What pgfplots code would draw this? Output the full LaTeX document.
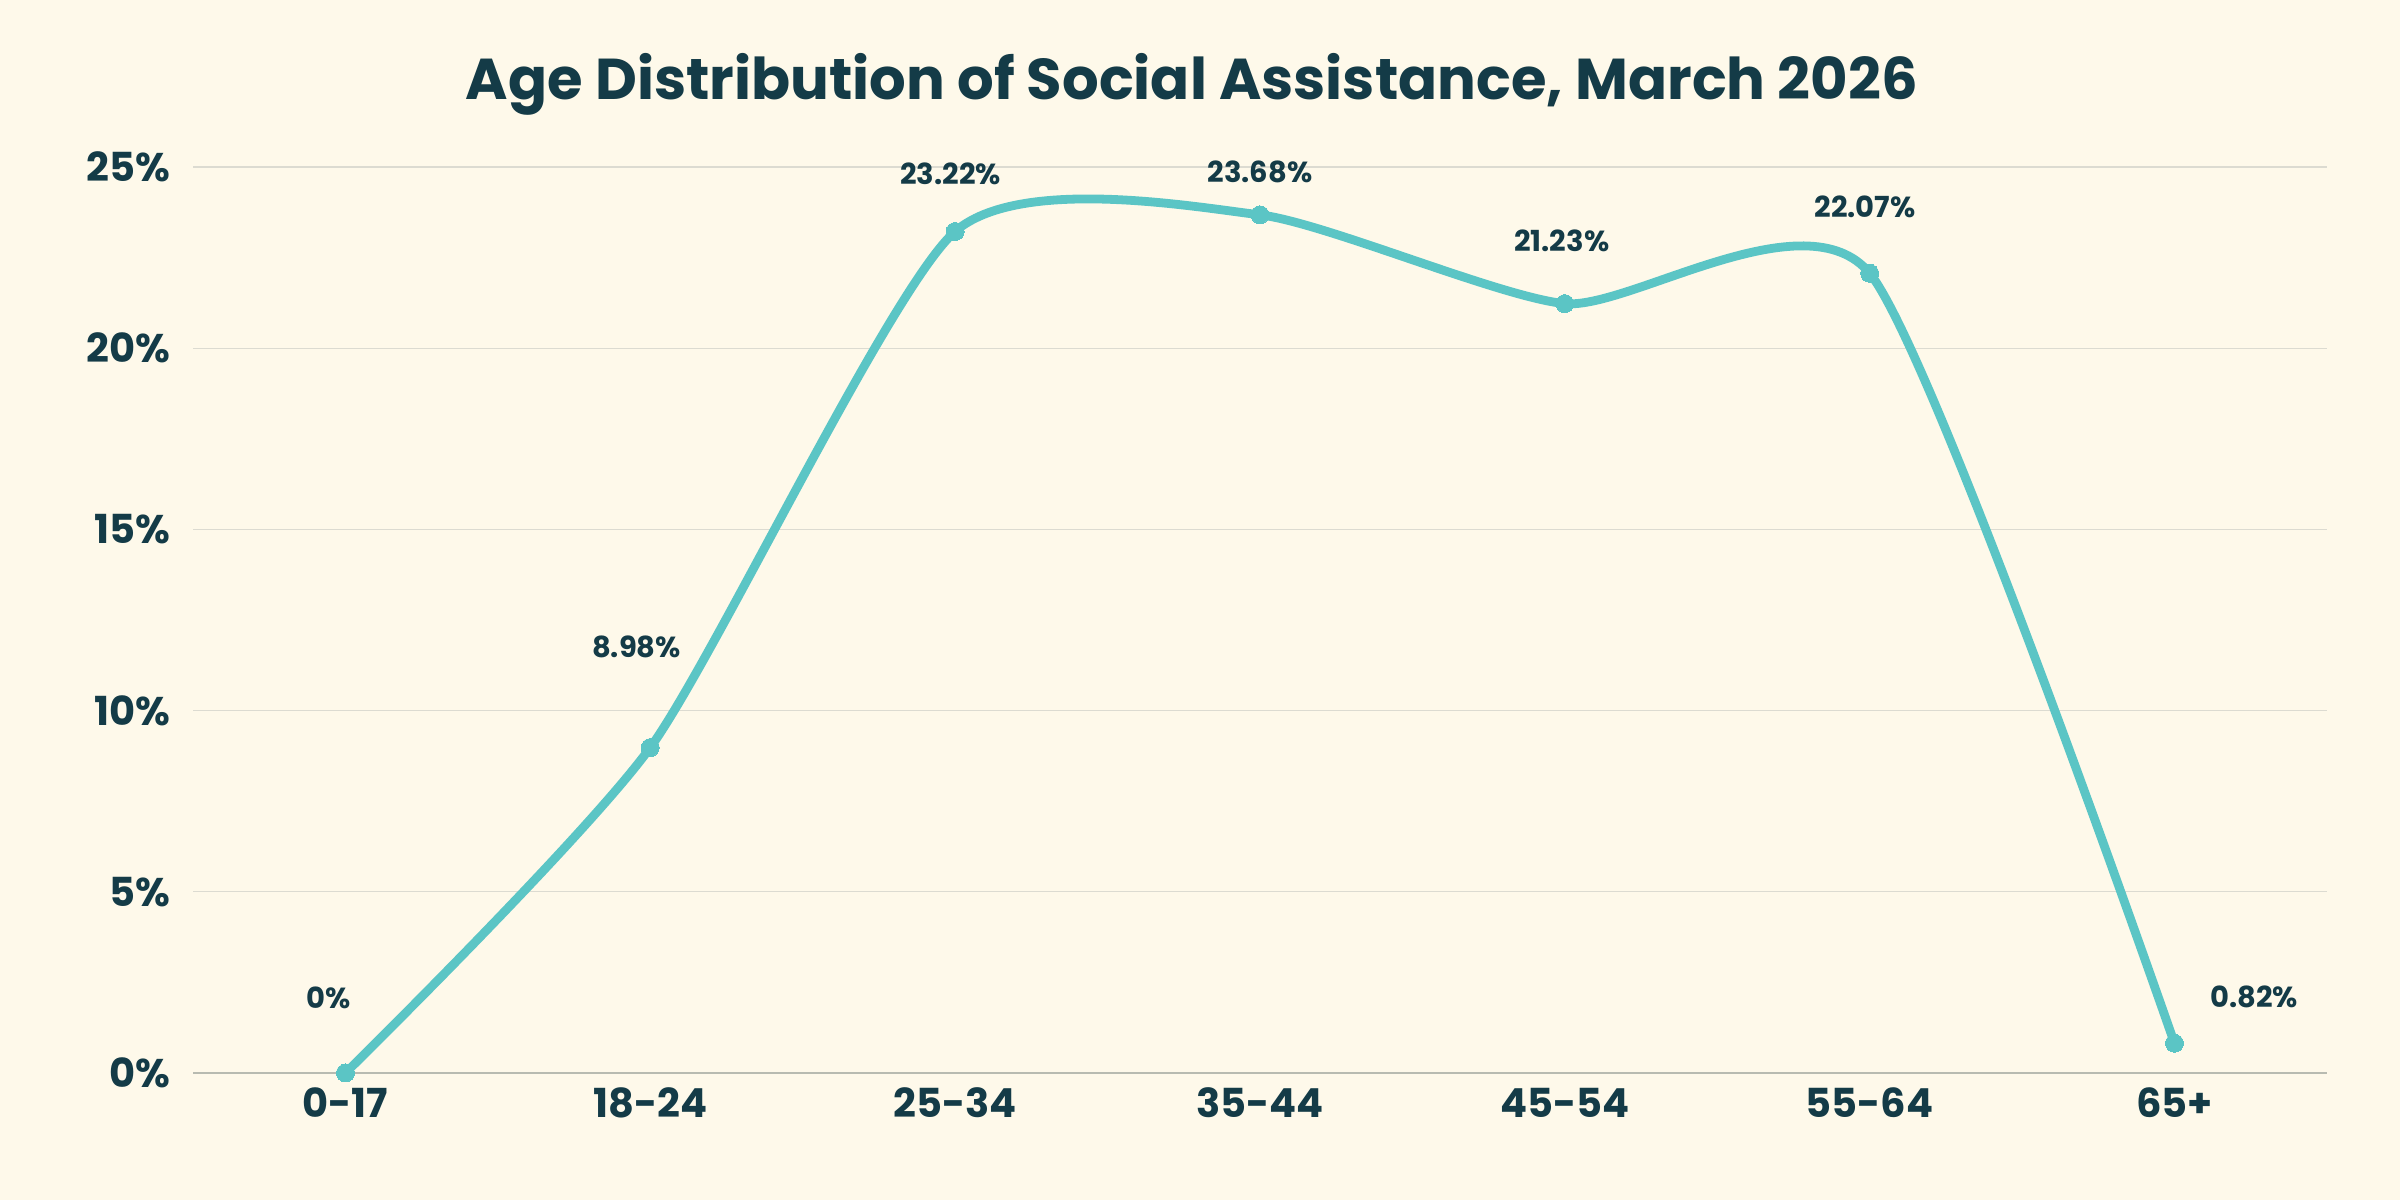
\documentclass[border=0pt]{standalone}
\usepackage{pgfplots}
\pgfplotsset{compat=1.18}
\usepackage{pgfplotstable}
\usepackage{fontspec}
\setmainfont{Poppins}
\definecolor{bgc}{HTML}{FEF9EA}
\definecolor{txt}{HTML}{143B47}
\definecolor{ln}{HTML}{5BC5C5}
\definecolor{gridc}{HTML}{DCDBD1}
\definecolor{basec}{HTML}{B8BBB1}
\pgfplotstableread{
x y dx dy lab
0 0 -8.4 37.5 0\%
1 8.98 -6.9 50.5 8.98\%
2 23.22 -2.3 29 23.22\%
3 23.68 0 21.4 23.68\%
4 21.23 -1.5 31.4 21.23\%
5 22.07 -2.3 33 22.07\%
6 0.82 39.8 23 0.82\%
}\datatable
\begin{document}
\begin{tikzpicture}
\fill[bgc] (0,0) rectangle (1200pt,600pt);
\useasboundingbox (0,0) rectangle (1200pt,600pt);
\node[text=txt, font=\fontsize{28.8}{34}\selectfont\bfseries] at (596pt,558pt) {Age Distribution of Social Assistance, March 2026};
\begin{axis}[
  at={(96.5pt,63.5pt)}, anchor=south west,
  scale only axis, width=1067pt, height=453pt,
  xmin=-0.5, xmax=6.5, ymin=0, ymax=25,
  axis line style={draw=none},
  major tick length=0pt,
  xtick={0,1,2,3,4,5,6},
  xticklabels={0-17,18-24,25-34,35-44,45-54,55-64,65+},
  ytick={5,10,15,20,25},
  yticklabels={5\%,10\%,15\%,20\%,25\%},
  extra y ticks={0}, extra y tick labels={0\%},
  extra y tick style={grid style={color=basec, line width=1.1pt}},
  ymajorgrids, grid style={color=gridc, line width=0.6pt},
  tick label style={text=txt, font=\fontsize{20}{24}\selectfont\bfseries},
  yticklabel style={xshift=-8pt},
  xticklabel style={yshift=-4pt},
  clip=false,
]
\addplot[ln, line width=4.4pt, smooth, tension=0.38, mark=*, mark size=4.5pt, mark options={fill=ln, draw=ln, line width=0pt},
  visualization depends on={\thisrow{dx}\as\dx},
  visualization depends on={\thisrow{dy}\as\dy},
  point meta=explicit symbolic,
  nodes near coords,
  nodes near coords style={anchor=center, text=txt, font=\fontsize{14.5}{17}\selectfont\bfseries, xshift=\dx pt, yshift=\dy pt},
] table[x=x, y=y, meta=lab] {\datatable};
\end{axis}
\end{tikzpicture}
\end{document}
